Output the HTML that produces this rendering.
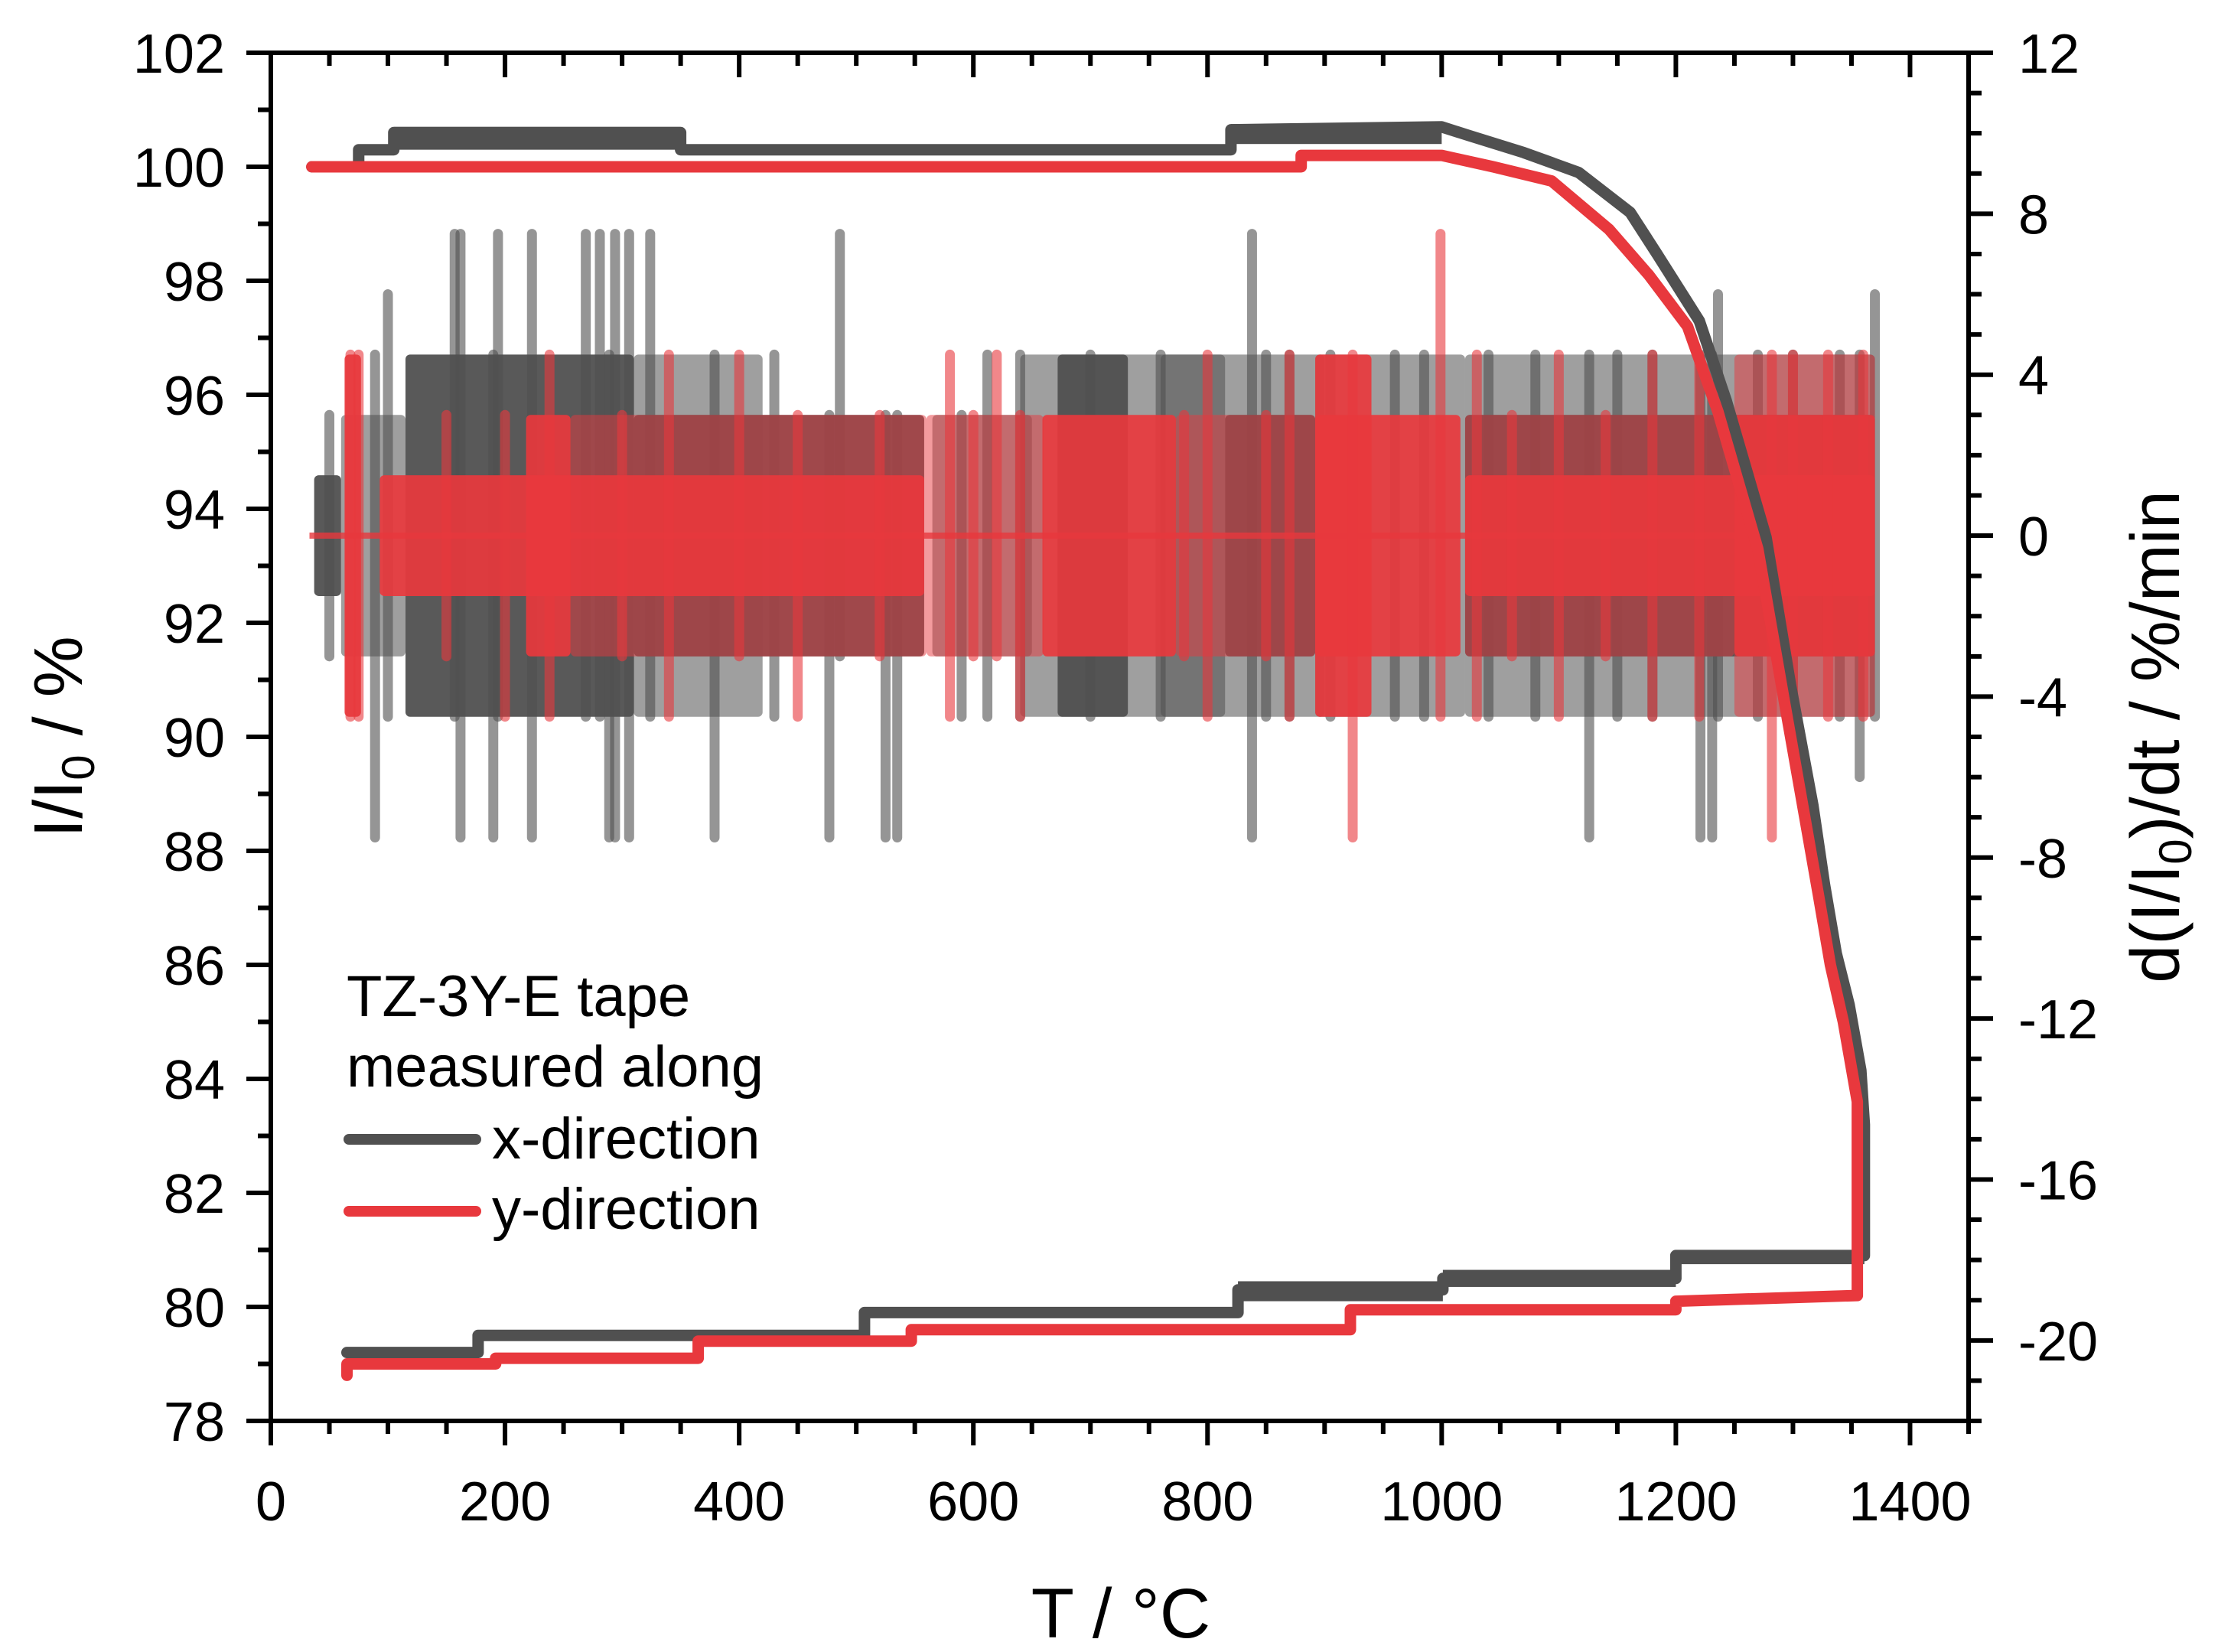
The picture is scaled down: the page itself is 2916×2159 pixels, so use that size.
<!DOCTYPE html>
<html><head><meta charset="utf-8"><style>
html,body{margin:0;padding:0;background:#fff;}
svg{display:block;font-family:"Liberation Sans",Arial,sans-serif;}
</style></head><body>
<svg id="chart" width="2916" height="2159" viewBox="0 0 2916 2159" xmlns="http://www.w3.org/2000/svg">
<rect x="0" y="0" width="2916" height="2159" fill="#fff"/>
<g id="deriv"></g>
<g id="main"></g>
<g id="axes"></g>
<g id="legend">
  <text x="453" y="1328" font-size="76">TZ-3Y-E tape</text>
  <text x="453" y="1420" font-size="76">measured along</text>
  <line x1="456" y1="1489" x2="622" y2="1489" stroke="#505050" stroke-width="14" stroke-linecap="round"/>
  <text x="643" y="1514" font-size="76">x-direction</text>
  <line x1="456" y1="1583" x2="622" y2="1583" stroke="#e8383d" stroke-width="14" stroke-linecap="round"/>
  <text x="643" y="1606" font-size="76">y-direction</text>
</g>
<text x="1465" y="2140" font-size="92" text-anchor="middle">T / °C</text>
<text transform="translate(107,963) rotate(-90)" font-size="90" text-anchor="middle">I/I<tspan font-size="60" dy="16">0</tspan><tspan dy="-16"> / %</tspan></text>
<text transform="translate(2848,963) rotate(-90)" font-size="90" text-anchor="middle">d(I/I<tspan font-size="60" dy="16">0</tspan><tspan dy="-16">)/dt / %/min</tspan></text>
</svg>
<script>
// ---- data ----
const xTicks = [0,200,400,600,800,1000,1200,1400];
const yLeftTicks = [78,80,82,84,86,88,90,92,94,96,98,100,102];
const yRightTicks = [-20,-16,-12,-8,-4,0,4,8,12];

const xDirT = [35,75,75,105,105,350,350,820,820,1000,1023,1070,1117,1161,1183,1220,1243,1277,1298,1317,1327,1337,1348,1358,1361,1361,1200,1200,1001,1001,826,826,507,507,177,177,65];
const xDirI = [100.0,100.0,100.3,100.3,100.6,100.6,100.3,100.3,100.65,100.7,100.55,100.25,99.9,99.2,98.5,97.3,95.9,93.5,90.9,88.8,87.4,86.2,85.3,84.15,83.2,80.9,80.9,80.5,80.5,80.3,80.3,79.9,79.9,79.5,79.5,79.2,79.2];
const yDirT = [35,880,880,1000,1044,1094,1143,1177,1210,1236,1270,1292,1310,1322,1332,1343,1355,1355,1200,1200,922,922,547,547,365,365,192,192,65,65];
const yDirI = [100.0,100.0,100.2,100.2,100.0,99.75,98.9,98.1,97.2,95.7,93.3,90.7,88.6,87.2,86.0,85.0,83.6,80.2,80.1,79.95,79.95,79.6,79.6,79.4,79.4,79.1,79.1,79.0,79.0,78.8];

// thick noisy plateaus of the intensity curves (T start, T end, low, high)
const xDirBandT0 = [105,820,826,1001,1200];
const xDirBandT1 = [350,1000,1001,1200,1361];
const xDirBandLo = [100.3,100.4,80.1,80.35,80.75];
const xDirBandHi = [100.7,100.75,80.45,80.65,81.0];

// derivative quantised bands (right axis, symmetric amplitude)
const xDerStart = [37,115,310,672,815,1020];
const xDerEnd   = [60,310,558,732,892,1370];
const xDerAmp   = [1.5,4.5,3.0,4.5,3.0,3.0];
// sparser, semi-transparent envelope bands
const xWideStart = [60,310,565,640,760,892,1020];
const xWideEnd   = [115,420,650,815,900,1020,1370];
const xWideAmp   = [3.0,4.5,3.0,4.5,4.5,4.5,4.5];
const yDerStart = [63,93,218,659,892,892,1020,1250];
const yDerEnd   = [77,558,256,773,1016,940,1370,1370];
const yDerAmp   = [4.5,1.5,3.0,3.0,3.0,4.5,1.5,3.0];
const yWideStart = [256,560,773,1020,1250];
const yWideEnd   = [560,660,892,1250,1370];
const yWideAmp   = [3.0,3.0,3.0,3.0,4.5];

// derivative spikes (T, high, low)
const xSpikeT  = [50,89,100,157,162,190,194,223,269,281,289,294,306,324,379,430,477,486,525,535,590,612,640,700,760,838,850,870,905,960,985,1040,1080,1126,1150,1180,1221,1231,1236,1270,1300,1340,1357,1370];
const xSpikeHi = [3,4.5,6,7.5,7.5,4.5,7.5,7.5,7.5,7.5,4.5,7.5,7.5,7.5,4.5,4.5,3,7.5,3,3,3,4.5,4.5,4.5,4.5,7.5,4.5,4.5,4.5,4.5,4.5,4.5,4.5,4.5,4.5,4.5,4.5,4.5,6.0,4.5,4.5,4.5,4.5,6.0];
const xSpikeLo = [-3,-7.5,-4.5,-4.5,-7.5,-7.5,-4.5,-7.5,-4.5,-4.5,-7.5,-7.5,-7.5,-4.5,-7.5,-4.5,-7.5,-3,-7.5,-7.5,-4.5,-4.5,-4.5,-4.5,-4.5,-7.5,-4.5,-4.5,-4.5,-4.5,-4.5,-4.5,-4.5,-7.5,-4.5,-4.5,-7.5,-7.5,-4.5,-4.5,-4.5,-4.5,-6.0,-4.5];
const ySpikeT  = [68,75,150,200,238,300,340,400,450,520,580,600,620,640,780,800,850,870,924,999,1030,1060,1100,1140,1180,1220,1282,1300,1330,1360];
const ySpikeHi = [4.5,4.5,3,3,4.5,3,4.5,4.5,3,3,4.5,3,4.5,3,3,4.5,3,4.5,4.5,7.5,4.5,3,4.5,3,4.5,4.5,4.5,4.5,4.5,4.5];
const ySpikeLo = [-4.5,-4.5,-3,-4.5,-4.5,-3,-4.5,-3,-4.5,-3,-4.5,-3,-3,-4.5,-3,-4.5,-3,-4.5,-7.5,-4.5,-4.5,-3,-4.5,-3,-4.5,-4.5,-7.5,-4.5,-4.5,-4.5];
const yZeroLine = [33,1370];

// ---- scales ----
const X0=354, X1=2573, Y0=69, Y1=1857;
const xMin=0, xMax=1450, yLMin=78, yLMax=102, yRMin=-22, yRMax=12;
const sx = t => X0 + (t - xMin) * (X1 - X0) / (xMax - xMin);
const syL = v => Y0 + (yLMax - v) * (Y1 - Y0) / (yLMax - yLMin);
const syR = v => Y0 + (yRMax - v) * (Y1 - Y0) / (yRMax - yRMin);
const NS = "http://www.w3.org/2000/svg";
function mk(tag, attrs, parent){
  const e = document.createElementNS(NS, tag);
  for (const k in attrs) e.setAttribute(k, attrs[k]);
  parent.appendChild(e); return e;
}
const DARK="#505050", RED="#e8383d";
const deriv = document.getElementById('deriv');
const main = document.getElementById('main');
const axes = document.getElementById('axes');

function drawBands(st, en, amp, color, name, op){
  for (let i=0;i<st.length;i++){
    const r = mk('rect',{x:sx(st[i]),y:syR(amp[i]),width:sx(en[i])-sx(st[i]),height:syR(-amp[i])-syR(amp[i]),fill:color,opacity:op,rx:6},deriv);
    
    
  }
}
function drawSpikes(t, hi, lo, color, name){
  for (let i=0;i<t.length;i++){
    const l = mk('line',{x1:sx(t[i]),x2:sx(t[i]),y1:syR(hi[i]),y2:syR(lo[i]),stroke:color,'stroke-width':13,'stroke-linecap':'round',opacity:0.6},deriv);
    
    
  }
}
drawBands(xWideStart,xWideEnd,xWideAmp,DARK,'x-derivative-envelope',0.55);
drawBands(xDerStart,xDerEnd,xDerAmp,DARK,'x-derivative-band',0.95);
drawSpikes(xSpikeT,xSpikeHi,xSpikeLo,DARK,'x-derivative-spike');
drawBands(yWideStart,yWideEnd,yWideAmp,RED,'y-derivative-envelope',0.5);
drawBands(yDerStart,yDerEnd,yDerAmp,RED,'y-derivative-band',0.92);
drawSpikes(ySpikeT,ySpikeHi,ySpikeLo,RED,'y-derivative-spike');
const zl = mk('line',{x1:sx(yZeroLine[0]),x2:sx(yZeroLine[1]),y1:syR(0),y2:syR(0),stroke:RED,'stroke-width':8,opacity:0.8},deriv);



function drawLine(ts, vs, color, name){
  let d='';
  for (let i=0;i<ts.length;i++) d += (i?'L':'M') + sx(ts[i]).toFixed(1) + ',' + syL(vs[i]).toFixed(1);
  const p = mk('path',{d:d,fill:'none',stroke:color,'stroke-width':15,'stroke-linejoin':'round','stroke-linecap':'round'},main);
  
  
}
for (let i=0;i<xDirBandT0.length;i++){
  const r = mk('rect',{x:sx(xDirBandT0[i]),y:syL(xDirBandHi[i]),width:sx(xDirBandT1[i])-sx(xDirBandT0[i]),height:syL(xDirBandLo[i])-syL(xDirBandHi[i]),fill:DARK},main);
  
  
}
drawLine(xDirT, xDirI, DARK, 'x-direction-curve');
drawLine(yDirT, yDirI, RED, 'y-direction-curve');

const frame = mk('rect',{x:X0,y:Y0,width:X1-X0,height:Y1-Y0,fill:'none',stroke:'#000','stroke-width':6},axes);


function tick(x1,y1,x2,y2,name){
  const l = mk('line',{x1:x1,y1:y1,x2:x2,y2:y2,stroke:'#000','stroke-width':6},axes);
  
  
}
function label(x,y,txt,anchor,name){
  const t = mk('text',{x:x,y:y,'font-size':72,'text-anchor':anchor},axes);
  t.textContent = txt;
  
  
}
for (let t=0;t<=xMax;t+=50){
  const major = xTicks.indexOf(t)>=0;
  const L = major?32:17;
  tick(sx(t),Y1,sx(t),Y1+L,'x-tick-bottom');
  tick(sx(t),Y0,sx(t),Y0+L,'x-tick-top');
}
xTicks.forEach(t=>label(sx(t),1987,String(t),'middle','x-tick-label'));
for (let v=yLMin; v<=yLMax; v+=1){
  const major = yLeftTicks.indexOf(v)>=0;
  tick(X0-(major?32:17),syL(v),X0,syL(v),'y-left-tick');
}
yLeftTicks.forEach(v=>label(294,syL(v)+26,String(v),'end','y-left-tick-label'));
for (let v=yRMin; v<=yRMax; v+=1){
  const major = yRightTicks.indexOf(v)>=0;
  tick(X1,syR(v),X1+(major?32:17),syR(v),'y-right-tick');
}
yRightTicks.forEach(v=>label(2638,syR(v)+26,String(v),'start','y-right-tick-label'));
</script>
</body></html>
